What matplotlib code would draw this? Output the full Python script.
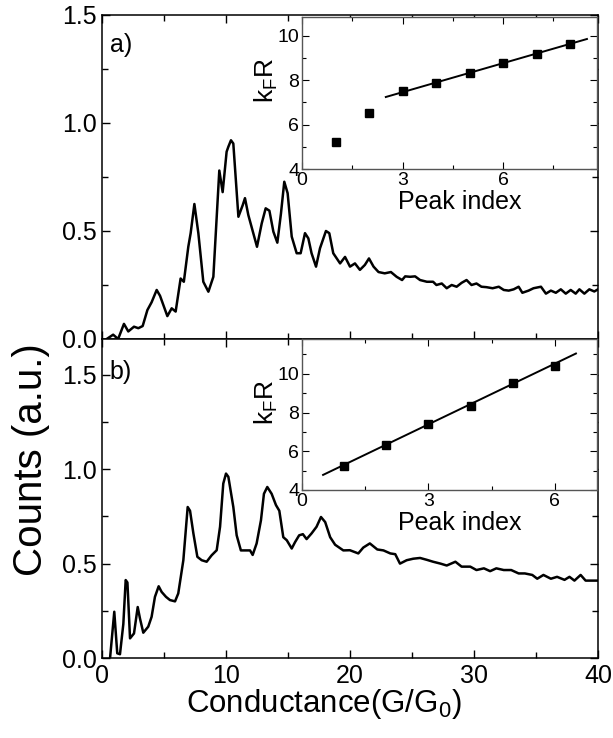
import numpy as np
import matplotlib
matplotlib.use("Agg")
import matplotlib.pyplot as plt
from matplotlib.ticker import MultipleLocator

plt.rcParams["font.family"] = ["Liberation Sans", "DejaVu Sans"]
plt.rcParams["mathtext.fontset"] = "custom"
plt.rcParams["mathtext.rm"] = "Liberation Sans"
plt.rcParams["mathtext.it"] = "Liberation Sans:italic"

# panel a) conductance histogram
g_a = [0.38, 0.9, 1.3, 1.77, 2.12, 2.58, 2.93, 3.28, 3.66, 4.0, 4.41, 4.68, 5.27, 5.62, 5.94,
       6.34, 6.6, 6.96, 7.15, 7.45, 7.77, 8.17, 8.58, 8.98, 9.46, 9.73, 10.05, 10.19, 10.4, 10.59,
       11.0, 11.35, 11.53, 11.8, 12.2, 12.5, 12.88, 13.2, 13.5, 13.82, 14.14, 14.43, 14.7, 14.97,
       15.3, 15.7, 16.02, 16.37, 16.64, 16.9, 17.26, 17.58, 18.06, 18.33, 18.65, 19.2, 19.6, 20.0,
       20.4, 20.8, 21.2, 21.53, 21.9, 22.3, 22.8, 23.3, 23.76, 24.2, 24.45, 24.85, 25.25, 25.65,
       26.2, 26.7, 26.97, 27.4, 27.8, 28.2, 28.6, 29.0, 29.4, 29.8, 30.2, 30.6, 31.0, 31.5, 32.0,
       32.4, 32.8, 33.2, 33.6, 33.9, 34.4, 34.8, 35.4, 35.8, 36.2, 36.6, 37.0, 37.4, 37.8, 38.2,
       38.5, 38.9, 39.3, 39.7, 40.0]
c_a = [0.0, 0.02, 0.0, 0.07, 0.035, 0.057, 0.05, 0.06, 0.134, 0.17, 0.227, 0.2, 0.106, 0.142, 0.127,
       0.28, 0.265, 0.427, 0.49, 0.625, 0.49, 0.265, 0.219, 0.288, 0.78, 0.68, 0.867, 0.89, 0.92, 0.905,
       0.566, 0.62, 0.652, 0.574, 0.49, 0.427, 0.535, 0.605, 0.594, 0.497, 0.446, 0.58, 0.728, 0.675,
       0.474, 0.397, 0.397, 0.49, 0.466, 0.397, 0.335, 0.42, 0.5, 0.49, 0.397, 0.35, 0.38, 0.335,
       0.35, 0.32, 0.343, 0.373, 0.335, 0.31, 0.304, 0.31, 0.288, 0.273, 0.29, 0.288, 0.29, 0.273,
       0.265, 0.265, 0.25, 0.257, 0.235, 0.25, 0.242, 0.26, 0.273, 0.25, 0.257, 0.242, 0.24, 0.235, 0.242,
       0.227, 0.224, 0.23, 0.242, 0.214, 0.224, 0.235, 0.242, 0.21, 0.224, 0.214, 0.23, 0.21, 0.227, 0.21,
       0.23, 0.21, 0.23, 0.22, 0.23]

# panel b) conductance histogram
g_b = [0.65, 0.99, 1.23, 1.45, 1.72, 1.91, 2.05, 2.26, 2.58, 2.88, 3.06, 3.33, 3.73, 4.0, 4.27,
       4.57, 4.81, 5.16, 5.48, 5.89, 6.15, 6.56, 6.91, 7.1, 7.37, 7.69, 8.04, 8.44, 8.84, 9.25,
       9.52, 9.78, 10.0, 10.19, 10.59, 10.86, 11.2, 11.53, 11.94, 12.15, 12.47, 12.82, 13.06, 13.33,
       13.68, 14.03, 14.3, 14.62, 14.9, 15.3, 15.57, 15.9, 16.2, 16.5, 16.9, 17.3, 17.66, 18.0,
       18.4, 18.8, 19.46, 19.99, 20.67, 21.07, 21.6, 22.2, 22.7, 23.25, 23.65, 24.03, 24.57, 25.1,
       25.65, 26.2, 26.7, 27.3, 27.8, 28.5, 29.0, 29.7, 30.2, 30.8, 31.3, 31.8, 32.4, 33.0, 33.6,
       34.1, 34.7, 35.1, 35.6, 36.2, 36.7, 37.3, 37.7, 38.1, 38.6, 39.0, 39.6, 40.0]
c_b = [0.0, 0.245, 0.025, 0.02, 0.18, 0.413, 0.4, 0.104, 0.13, 0.27, 0.21, 0.134, 0.166, 0.218, 0.324,
       0.38, 0.35, 0.324, 0.307, 0.3, 0.342, 0.518, 0.8, 0.78, 0.66, 0.536, 0.518, 0.51, 0.544, 0.571,
       0.695, 0.924, 0.977, 0.96, 0.8, 0.65, 0.57, 0.57, 0.57, 0.546, 0.607, 0.73, 0.87, 0.906,
       0.87, 0.81, 0.78, 0.64, 0.624, 0.58, 0.614, 0.65, 0.656, 0.63, 0.66, 0.695, 0.747, 0.72,
       0.64, 0.6, 0.57, 0.571, 0.554, 0.585, 0.607, 0.575, 0.57, 0.554, 0.55, 0.5, 0.518, 0.526,
       0.53, 0.52, 0.51, 0.5, 0.49, 0.51, 0.484, 0.484, 0.466, 0.475, 0.46, 0.475, 0.466, 0.466, 0.448,
       0.448, 0.44, 0.42, 0.44, 0.42, 0.43, 0.414, 0.43, 0.41, 0.44, 0.41, 0.41, 0.41]

# insets: k_F R vs peak index
peak_a = [1, 2, 3, 4, 5, 6, 7, 8]
kfr_a = [5.22, 6.52, 7.5, 7.87, 8.33, 8.76, 9.17, 9.63]
fit_a_x = [2.5, 8.5]
fit_a_y = [7.24, 9.85]

peak_b = [1, 2, 3, 4, 5, 6]
kfr_b = [5.24, 6.33, 7.42, 8.35, 9.54, 10.42]
fit_b_x = [0.5, 6.5]
fit_b_y = [4.78, 11.05]

fig = plt.figure(figsize=(6.13, 7.38), dpi=100)
L, W = 102 / 613, 496 / 613
ax_a = fig.add_axes([L, 1 - 339 / 738, W, 324 / 738])
ax_b = fig.add_axes([L, 1 - 658 / 738, W, 319 / 738])


def style_main(ax):
    ax.set_xlim(0, 40)
    ax.xaxis.set_major_locator(MultipleLocator(10))
    ax.xaxis.set_minor_locator(MultipleLocator(5))
    ax.yaxis.set_major_locator(MultipleLocator(0.5))
    ax.yaxis.set_minor_locator(MultipleLocator(0.25))
    ax.tick_params(which="both", direction="in", top=True, right=True, labelsize=18, pad=4)
    ax.tick_params(which="major", length=6, width=1)
    ax.tick_params(which="minor", length=4, width=1)
    for s in ax.spines.values():
        s.set_linewidth(1.1)


ax_a.plot(g_a, c_a, color="black", lw=1.8)
style_main(ax_a)
ax_a.set_ylim(0, 1.5)
ax_a.tick_params(labelbottom=False)
ax_a.yaxis.set_major_formatter(plt.FormatStrFormatter("%.1f"))
ax_a.text(0.016, 0.907, "a)", transform=ax_a.transAxes, fontsize=18, va="center")

ax_b.plot(g_b, c_b, color="black", lw=1.8)
style_main(ax_b)
ax_b.set_ylim(0, 1.69)
ax_b.yaxis.set_major_formatter(plt.FormatStrFormatter("%.1f"))
ax_b.text(0.016, 0.897, "b)", transform=ax_b.transAxes, fontsize=18, va="center")
ax_b.set_xlabel("Conductance(G/G$_\\mathregular{0}$)", fontsize=22.5)
ax_b.xaxis.set_label_coords(0.448, -0.092, transform=ax_b.transAxes)
ax_b.xaxis.label.set_va("top")

fig.text(31 / 613, 1 - 460 / 738, "Counts (a.u.)", rotation=90, fontsize=29,
         ha="center", va="center")

IL, IW = 302 / 613, 295 / 613
in_a = fig.add_axes([IL, 1 - 169 / 738, IW, 152 / 738])
in_b = fig.add_axes([IL, 1 - 490 / 738, IW, 151 / 738])

for ax, px, py, fx, fy, xmax, ymax in [
        (in_a, peak_a, kfr_a, fit_a_x, fit_a_y, 8.8, 10.84),
        (in_b, peak_b, kfr_b, fit_b_x, fit_b_y, 7.0, 11.8)]:
    ax.plot(fx, fy, color="black", lw=1.4)
    ax.plot(px, py, "s", color="black", ms=6)
    ax.set_xlim(0, xmax)
    ax.set_ylim(4, ymax)
    ax.xaxis.set_major_locator(MultipleLocator(3))
    ax.xaxis.set_minor_locator(MultipleLocator(1.5))
    ax.yaxis.set_major_locator(MultipleLocator(2))
    ax.yaxis.set_minor_locator(MultipleLocator(1))
    ax.tick_params(which="both", direction="in", top=True, right=True, labelsize=14, pad=2)
    ax.tick_params(which="major", length=5, width=0.8)
    ax.tick_params(which="minor", length=3, width=0.8)
    for s in ax.spines.values():
        s.set_linewidth(1.0)
        s.set_color("#555555")
    ax.set_xlabel("Peak index", fontsize=18)
    ax.xaxis.set_label_coords(0.534, -0.14)
    ax.xaxis.label.set_va("top")
    ax.set_ylabel("k$_\\mathregular{F}$R", fontsize=19)
    ax.yaxis.set_label_coords(-0.075, 0.58)

fig.savefig("out.png", dpi=100)
